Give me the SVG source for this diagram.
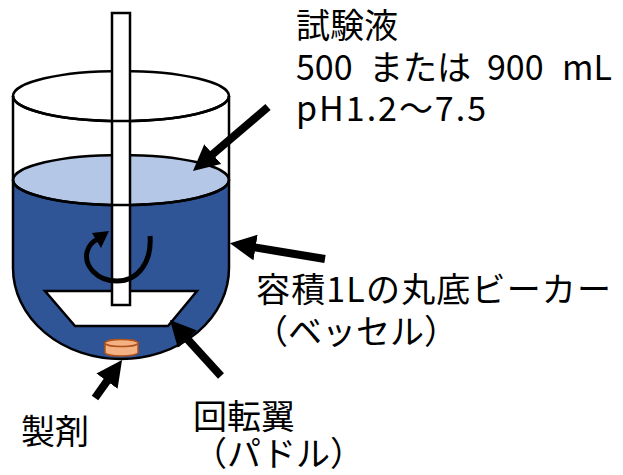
<svg xmlns="http://www.w3.org/2000/svg" width="623" height="475" viewBox="0 0 623 475">
  <style>
    .ln { fill: none; stroke: #000; stroke-width: 2.5; }
    .lbl { font-family: "Noto Sans CJK JP", "Noto Sans", sans-serif; font-size: 34px; fill: #000; }
    .ptr { stroke: #000; stroke-width: 8; fill: none; marker-end: url(#head); }
  </style>
  <defs>
    <marker id="head" markerUnits="userSpaceOnUse" viewBox="0 0 26 26" markerWidth="26" markerHeight="26" refX="4" refY="13" orient="auto">
      <path d="M0,0 L26,13 L0,26 Z" fill="#000"/>
    </marker>
  </defs>
  <rect width="623" height="475" fill="#fff"/>

  <!-- vessel with test medium -->
  <g id="vessel">
    <!-- rim (back) -->
    <ellipse cx="121" cy="96" rx="108" ry="25" class="ln"/>
    <!-- medium body -->
    <path d="M13,180 L13,268 A108,91 0 0 0 229,268 L229,180 Z" fill="#2F5597"/>
    <!-- medium surface -->
    <ellipse cx="121" cy="180" rx="108" ry="25" fill="#B4C7E7" stroke="#000" stroke-width="2.5"/>
  </g>

  <!-- paddle blade and shaft -->
  <g id="paddle">
    <path d="M45,291 L197,291 L168,326 L75,326 Z" fill="#fff" stroke="#000" stroke-width="2.5"/>
    <rect x="112" y="13" width="18" height="292" fill="#fff" stroke="#000" stroke-width="2.5"/>
  </g>

  <!-- front edges passing over the shaft -->
  <g id="vessel-front">
    <path d="M13,180 A108,25 0 0 0 229,180" class="ln"/>
    <path d="M13,96 A108,25 0 0 0 229,96" class="ln"/>
    <path d="M13,96 L13,268 A108,91 0 0 0 229,268 L229,96" class="ln"/>
  </g>

  <!-- rotation mark -->
  <g id="rotation">
    <path d="M150,236 C152,262 138,281 117,281 C97,281 84,266 87,252 C89,245 93,241 98,239" fill="none" stroke="#000" stroke-width="5"/>
    <path d="M92,233 L109,231 L101,248 Z" fill="#000"/>
  </g>

  <!-- dosage form -->
  <g id="tablet">
    <path d="M105,343 L105,352.5 A16.5,3.5 0 0 0 138,352.5 L138,343 Z" fill="#F4B183" stroke="#B0501A" stroke-width="1.5"/>
    <ellipse cx="121.5" cy="343" rx="16.5" ry="3.5" fill="#F4B183" stroke="#B0501A" stroke-width="1.5"/>
  </g>

  <!-- pointers -->
  <g id="connectors">
    <line x1="268" y1="107" x2="209.7" y2="156.7" class="ptr"/>
    <line x1="325" y1="259" x2="251.6" y2="246.9" class="ptr"/>
    <line x1="221" y1="376" x2="184.8" y2="336.3" class="ptr"/>
    <line x1="95" y1="398" x2="109.3" y2="377.9" class="ptr"/>
  </g>

  <!-- labels -->
  <g id="label-medium">
    <text class="lbl" x="296" y="38">試験液</text>
    <text class="lbl" y="80"><tspan x="296">500</tspan><tspan x="369">または</tspan><tspan x="487">900</tspan><tspan x="562">mL</tspan></text>
    <text class="lbl" x="296" y="121" textLength="190" lengthAdjust="spacing">pH1.2～7.5</text>
  </g>
  <g id="label-vessel">
    <text class="lbl" x="256" y="302" textLength="355" lengthAdjust="spacing">容積1Lの丸底ビーカー</text>
    <text class="lbl" x="254" y="344">（ベッセル）</text>
  </g>
  <g id="label-paddle">
    <text class="lbl" x="193" y="429">回転翼</text>
    <text class="lbl" x="193" y="466">（パドル）</text>
  </g>
  <g id="label-tablet">
    <text class="lbl" x="21" y="444">製剤</text>
  </g>
</svg>
